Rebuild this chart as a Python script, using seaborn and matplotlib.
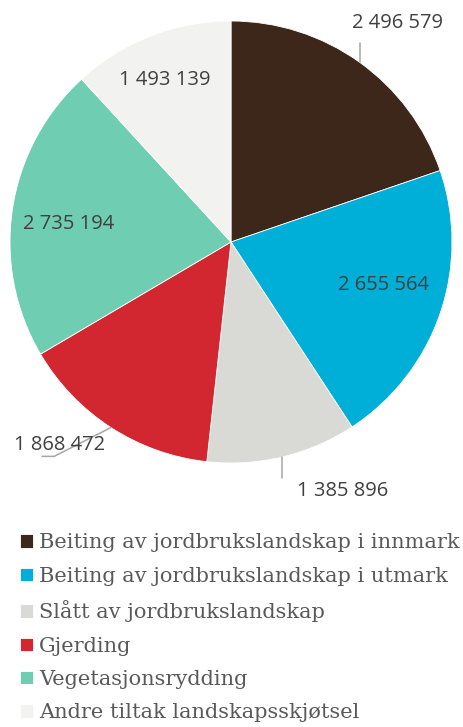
import numpy as np
import matplotlib
matplotlib.use("Agg")
import matplotlib.pyplot as plt
import seaborn as sns

# data
categories = [
    "Beiting av jordbrukslandskap i innmark",
    "Beiting av jordbrukslandskap i utmark",
    "Slått av jordbrukslandskap",
    "Gjerding",
    "Vegetasjonsrydding",
    "Andre tiltak landskapsskjøtsel",
]
values = [2496579, 2655564, 1385896, 1868472, 2735194, 1493139]
labels = ["2 496 579", "2 655 564", "1 385 896", "1 868 472", "2 735 194", "1 493 139"]
colors = ["#3C271A", "#00AFD7", "#D9D9D5", "#D22630", "#6FCEB2", "#F2F2F0"]

sns.set_theme(style="white")
plt.rcParams["font.family"] = ["DejaVu Sans"]

fig = plt.figure(figsize=(4.63, 7.27), dpi=100)
ax = fig.add_axes([10 / 463, 264 / 727, 442 / 463, 442 / 727])

wedges, _ = ax.pie(values, colors=colors, startangle=90, counterclock=False,
                   wedgeprops=dict(edgecolor="white", linewidth=0.6))
ax.set_xlim(-1, 1)
ax.set_ylim(-1, 1)
ax.set_aspect("equal")
ax.axis("off")

# label layout (data units, radius 1 = pie edge)
# (x, y, leader) leader: None or list of extra points after the edge point
layout = [
    (0.755, 0.99, [(0.58, 0.90)]),
    (0.69, -0.195, None),
    (0.505, -1.125, [(0.235, -1.07)]),
    (-0.775, -0.92, [(-0.80, -0.97), (-0.855, -0.97)]),
    (-0.735, 0.08, None),
    (-0.30, 0.735, None),
]

total = sum(values)
cum = 0
for v, lab, (lx, ly, leader) in zip(values, labels, layout):
    mid = (cum + v / 2) / total
    cum += v
    th = np.deg2rad(90 - 360 * mid)
    ex, ey = np.cos(th), np.sin(th)
    if leader is not None:
        pts = [(ex, ey)] + leader
        xs = [p[0] for p in pts]
        ys = [p[1] for p in pts]
        if len(leader) == 1:
            xs[1] = xs[0]
        ax.plot(xs, ys, color="#A6A6A6", lw=1.1, clip_on=False, zorder=1)
    ax.text(lx, ly, lab, ha="center", va="center", fontsize=14.5,
            color="#404040", family=["Open Sans", "DejaVu Sans"], clip_on=False, zorder=3)

leg = fig.legend(wedges, categories, loc="upper left", bbox_to_anchor=(20 / 463, 1 - 533.5 / 727),
                 frameon=False, borderpad=0, borderaxespad=0, handlelength=0.62, handleheight=0.62,
                 handletextpad=0.3, labelspacing=0.69,
                 prop=dict(family=["DejaVu Serif"], size=15))
for t in leg.get_texts():
    t.set_color("#595959")

fig.savefig("out.png", dpi=100)
